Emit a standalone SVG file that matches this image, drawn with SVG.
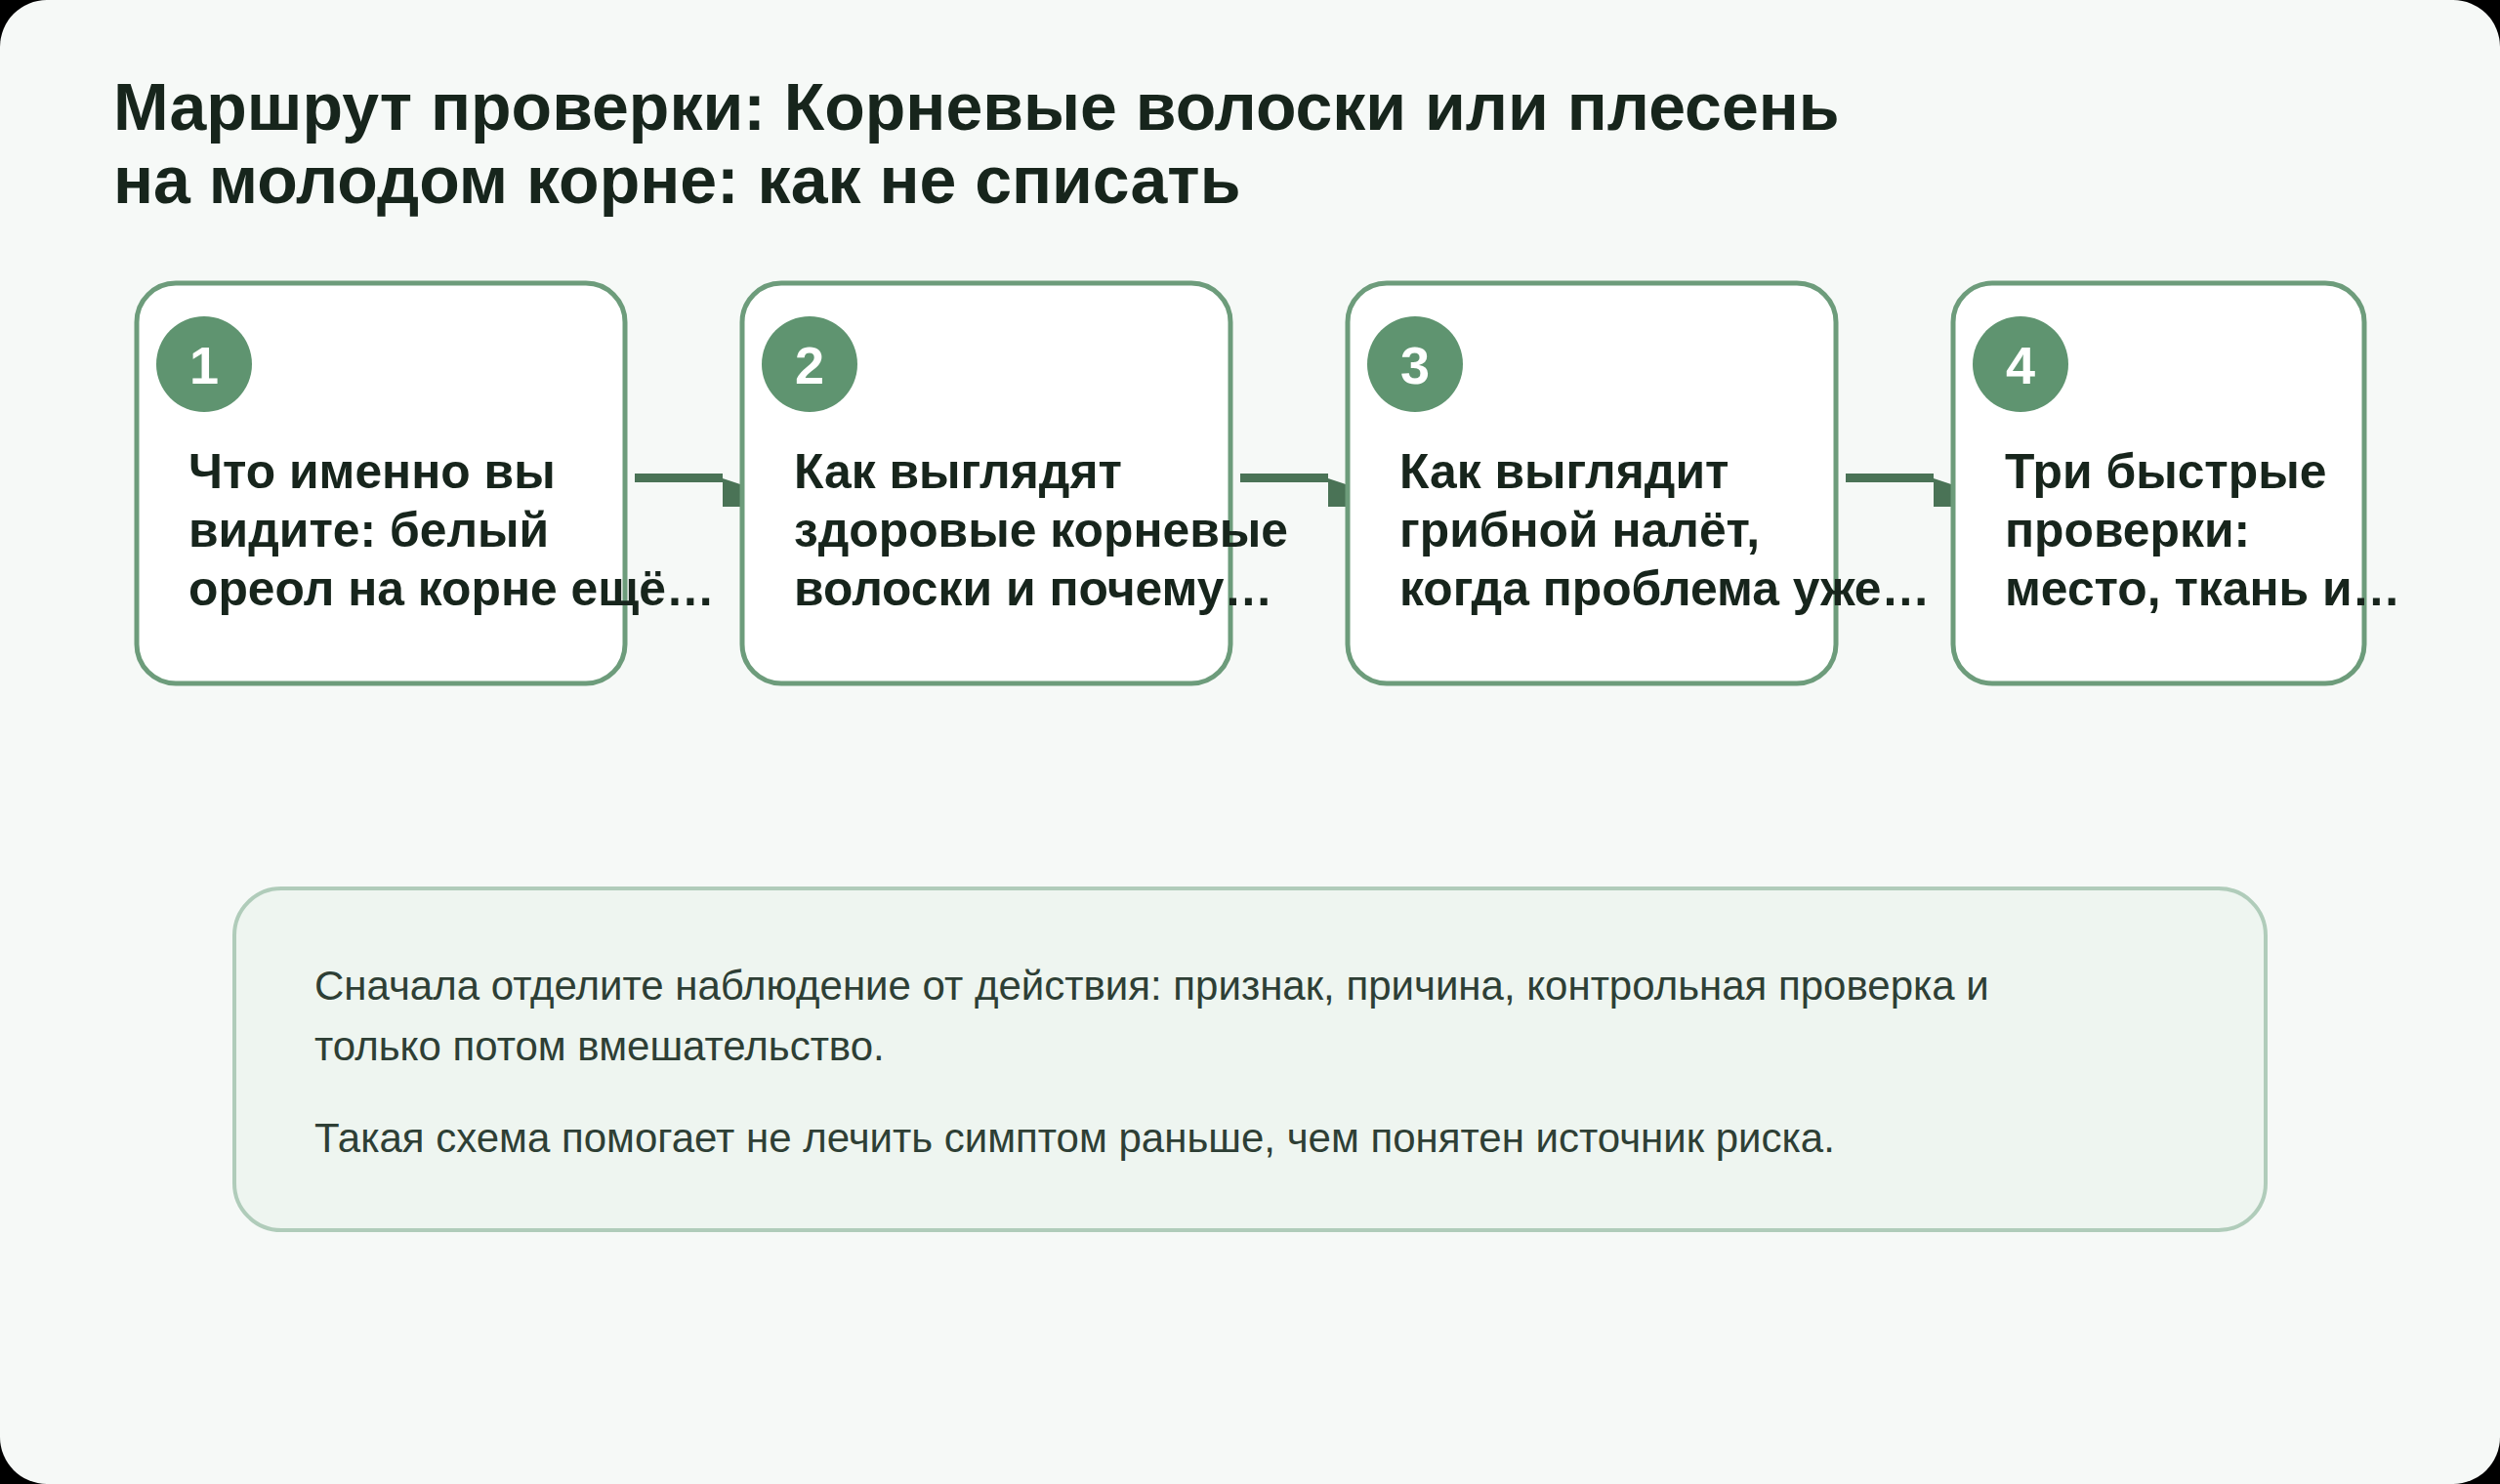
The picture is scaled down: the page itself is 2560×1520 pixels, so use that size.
<svg xmlns="http://www.w3.org/2000/svg" width="2560" height="1520" viewBox="0 0 2560 1520">
<style>
.title{font-family:"Liberation Sans",Arial,sans-serif;font-weight:bold;font-size:68px;fill:#17251c}
.box{fill:#ffffff;stroke:#6d9c7b;stroke-width:5}
.badge{fill:#5f9470}
.num{font-family:"Liberation Sans",Arial,sans-serif;font-weight:bold;font-size:54px;fill:#ffffff;text-anchor:middle}
.label{font-family:"Liberation Sans",Arial,sans-serif;font-weight:bold;font-size:49.8px;fill:#17251c}
.edge{stroke:#4a7356;stroke-width:9;fill:none}
.head{fill:#4a7356}
.note{fill:#eef5f0;stroke:#b0ccba;stroke-width:4}
.ntext{font-family:"Liberation Sans",Arial,sans-serif;font-size:42px;fill:#2e3f35}
</style>
<defs>
<path id="ah" d="M0,0 L30,10 L30,29 L0,29 Z"/>
</defs>
<rect x="0" y="0" width="2560" height="1520" fill="#000000"/>
<rect x="0" y="0" width="2560" height="1520" rx="48" ry="48" fill="#f6f9f7"/>
<g id="title">
<text class="title" x="116" y="133">Маршрут проверки: Корневые волоски или плесень</text>
<text class="title" x="116" y="208">на молодом корне: как не списать</text>
</g>
<g id="connectors">
<line class="edge" x1="650" y1="489.5" x2="740" y2="489.5"/>
<use href="#ah" class="head" x="740" y="490"/>
<line class="edge" x1="1270" y1="489.5" x2="1360" y2="489.5"/>
<use href="#ah" class="head" x="1360" y="490"/>
<line class="edge" x1="1890" y1="489.5" x2="1980" y2="489.5"/>
<use href="#ah" class="head" x="1980" y="490"/>
</g>
<g id="node1">
<rect class="box" x="140" y="290" width="500" height="410" rx="40" ry="40"/>
<circle class="badge" cx="209" cy="373" r="49"/>
<text class="num" x="209" y="393">1</text>
<text class="label" x="193" y="500">Что именно вы</text>
<text class="label" x="193" y="560">видите: белый</text>
<text class="label" x="193" y="620">ореол на корне ещё…</text>
</g>
<g id="node2">
<rect class="box" x="760" y="290" width="500" height="410" rx="40" ry="40"/>
<circle class="badge" cx="829" cy="373" r="49"/>
<text class="num" x="829" y="393">2</text>
<text class="label" x="813" y="500">Как выглядят</text>
<text class="label" x="813" y="560">здоровые корневые</text>
<text class="label" x="813" y="620">волоски и почему…</text>
</g>
<g id="node3">
<rect class="box" x="1380" y="290" width="500" height="410" rx="40" ry="40"/>
<circle class="badge" cx="1449" cy="373" r="49"/>
<text class="num" x="1449" y="393">3</text>
<text class="label" x="1433" y="500">Как выглядит</text>
<text class="label" x="1433" y="560">грибной налёт,</text>
<text class="label" x="1433" y="620">когда проблема уже…</text>
</g>
<g id="node4">
<rect class="box" x="2000" y="290" width="421" height="410" rx="40" ry="40"/>
<circle class="badge" cx="2069" cy="373" r="49"/>
<text class="num" x="2069" y="393">4</text>
<text class="label" x="2053" y="500">Три быстрые</text>
<text class="label" x="2053" y="560">проверки:</text>
<text class="label" x="2053" y="620">место, ткань и…</text>
</g>
<g id="note">
<rect class="note" x="240" y="910" width="2080" height="350" rx="48" ry="48"/>
<text class="ntext" x="322" y="1024">Сначала отделите наблюдение от действия: признак, причина, контрольная проверка и</text>
<text class="ntext" x="322" y="1086">только потом вмешательство.</text>
<text class="ntext" x="322" y="1180">Такая схема помогает не лечить симптом раньше, чем понятен источник риска.</text>
</g>
</svg>
